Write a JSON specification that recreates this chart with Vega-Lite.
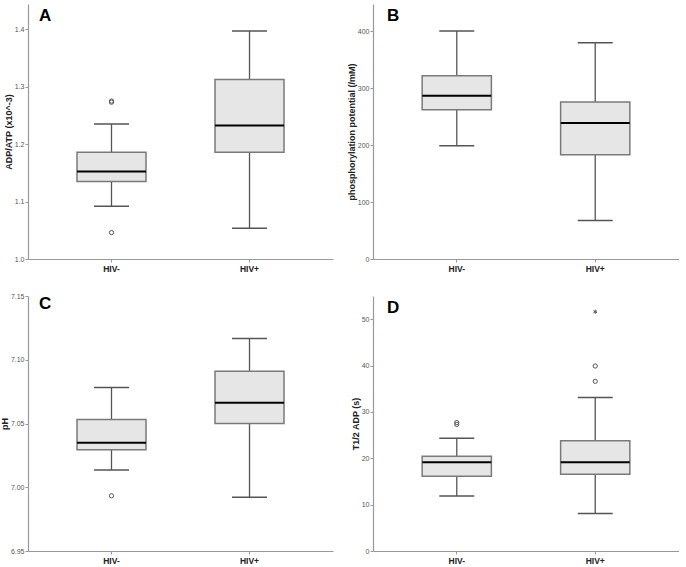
{
  "$schema": "https://vega.github.io/schema/vega-lite/v6.json",
  "padding": {"left": 0, "top": 4, "right": 0, "bottom": 0},
  "background": "white",
  "datasets": {
    "stats": [
      {"panel": "A", "group": "HIV-", "lower": 1.092, "q1": 1.135, "median": 1.1525, "q3": 1.186, "upper": 1.235},
      {"panel": "A", "group": "HIV+", "lower": 1.0535, "q1": 1.186, "median": 1.2326, "q3": 1.3126, "upper": 1.397},
      {"panel": "B", "group": "HIV-", "lower": 198.8, "q1": 262, "median": 286.7, "q3": 322, "upper": 400.5},
      {"panel": "B", "group": "HIV+", "lower": 67.8, "q1": 183, "median": 239, "q3": 276, "upper": 380},
      {"panel": "C", "group": "HIV-", "lower": 7.0135, "q1": 7.0295, "median": 7.035, "q3": 7.0531, "upper": 7.0783},
      {"panel": "C", "group": "HIV+", "lower": 6.9922, "q1": 7.05, "median": 7.0662, "q3": 7.091, "upper": 7.1166},
      {"panel": "D", "group": "HIV-", "lower": 11.86, "q1": 16.1, "median": 19.16, "q3": 20.46, "upper": 24.3},
      {"panel": "D", "group": "HIV+", "lower": 8.1, "q1": 16.56, "median": 19.16, "q3": 23.8, "upper": 33.1}
    ],
    "outliers": [
      {"panel": "A", "group": "HIV-", "value": 1.273, "kind": "outlier"},
      {"panel": "A", "group": "HIV-", "value": 1.275, "kind": "outlier"},
      {"panel": "A", "group": "HIV-", "value": 1.046, "kind": "outlier"},
      {"panel": "C", "group": "HIV-", "value": 6.9933, "kind": "outlier"},
      {"panel": "D", "group": "HIV-", "value": 27.3, "kind": "outlier"},
      {"panel": "D", "group": "HIV-", "value": 27.7, "kind": "outlier"},
      {"panel": "D", "group": "HIV+", "value": 36.6, "kind": "outlier"},
      {"panel": "D", "group": "HIV+", "value": 39.9, "kind": "outlier"},
      {"panel": "D", "group": "HIV+", "value": 51.6, "kind": "extreme"}
    ]
  },
  "columns": 2,
  "bounds": "flush",
  "spacing": {"row": 37, "column": 40},
  "concat": [
    {
      "width": 305, "height": 255,
      "title": {"text": "A", "dx": 11},
      "data": {"name": "stats"},
      "transform": [{"filter": "datum.panel === 'A'"}],
      "encoding": {
        "x": {"field": "group", "type": "nominal", "sort": ["HIV-", "HIV+"], "title": null,
              "scale": {"type": "band", "domain": ["HIV-", "HIV+"], "paddingInner": 0.5, "paddingOuter": 0.355}}
      },
      "layer": [
        {"mark": {"type": "rule", "color": "#555", "strokeWidth": 1.3},
         "encoding": {"y": {"field": "lower", "type": "quantitative", "title": "ADP/ATP (x10^-3)",
            "scale": {"domain": [1.0, 1.444], "nice": false, "zero": false},
            "axis": {"values": [1.0, 1.1, 1.2, 1.3, 1.4], "format": ".1f"}},
            "y2": {"field": "upper"}}},
        {"mark": {"type": "bar", "fill": "#e6e6e6", "stroke": "#7a7a7a", "strokeWidth": 1.5},
         "encoding": {"y": {"field": "q1", "type": "quantitative"}, "y2": {"field": "q3"}}},
        {"mark": {"type": "tick", "color": "#000", "opacity": 1, "size": 69, "thickness": 2},
         "encoding": {"y": {"field": "median", "type": "quantitative"}}},
        {"mark": {"type": "tick", "color": "#555", "opacity": 1, "size": 35, "thickness": 1.5},
         "encoding": {"y": {"field": "upper", "type": "quantitative"}}},
        {"mark": {"type": "tick", "color": "#555", "opacity": 1, "size": 35, "thickness": 1.5},
         "encoding": {"y": {"field": "lower", "type": "quantitative"}}},
        {"data": {"name": "outliers"},
         "transform": [{"filter": "datum.panel === 'A'"}],
         "mark": {"type": "point", "filled": false, "color": "#555", "opacity": 1, "size": 18, "strokeWidth": 1},
         "encoding": {"y": {"field": "value", "type": "quantitative"},
           "shape": {"field": "kind", "type": "nominal", "legend": null,
             "scale": {"domain": ["outlier", "extreme"], "range": ["circle", "M0,-1L0,1M-0.87,-0.5L0.87,0.5M-0.87,0.5L0.87,-0.5"]}}}}
      ]
    },
    {
      "width": 306, "height": 255,
      "title": {"text": "B", "dx": 14},
      "data": {"name": "stats"},
      "transform": [{"filter": "datum.panel === 'B'"}],
      "encoding": {
        "x": {"field": "group", "type": "nominal", "sort": ["HIV-", "HIV+"], "title": null,
              "scale": {"type": "band", "domain": ["HIV-", "HIV+"], "paddingInner": 0.5, "paddingOuter": 0.355}}
      },
      "layer": [
        {"mark": {"type": "rule", "color": "#555", "strokeWidth": 1.3},
         "encoding": {"y": {"field": "lower", "type": "quantitative", "title": "phosphorylation potential (/mM)",
            "scale": {"domain": [0, 448], "nice": false},
            "axis": {"values": [0, 100, 200, 300, 400]}},
            "y2": {"field": "upper"}}},
        {"mark": {"type": "bar", "fill": "#e6e6e6", "stroke": "#7a7a7a", "strokeWidth": 1.5},
         "encoding": {"y": {"field": "q1", "type": "quantitative"}, "y2": {"field": "q3"}}},
        {"mark": {"type": "tick", "color": "#000", "opacity": 1, "size": 69, "thickness": 2},
         "encoding": {"y": {"field": "median", "type": "quantitative"}}},
        {"mark": {"type": "tick", "color": "#555", "opacity": 1, "size": 35, "thickness": 1.5},
         "encoding": {"y": {"field": "upper", "type": "quantitative"}}},
        {"mark": {"type": "tick", "color": "#555", "opacity": 1, "size": 35, "thickness": 1.5},
         "encoding": {"y": {"field": "lower", "type": "quantitative"}}}
      ]
    },
    {
      "width": 305, "height": 255,
      "title": {"text": "C", "dx": 11},
      "data": {"name": "stats"},
      "transform": [{"filter": "datum.panel === 'C'"}],
      "encoding": {
        "x": {"field": "group", "type": "nominal", "sort": ["HIV-", "HIV+"], "title": null,
              "scale": {"type": "band", "domain": ["HIV-", "HIV+"], "paddingInner": 0.5, "paddingOuter": 0.355}}
      },
      "layer": [
        {"mark": {"type": "rule", "color": "#555", "strokeWidth": 1.3},
         "encoding": {"y": {"field": "lower", "type": "quantitative", "title": "pH",
            "scale": {"domain": [6.95, 7.15], "nice": false, "zero": false},
            "axis": {"values": [6.95, 7.0, 7.05, 7.1, 7.15], "format": ".2f"}},
            "y2": {"field": "upper"}}},
        {"mark": {"type": "bar", "fill": "#e6e6e6", "stroke": "#7a7a7a", "strokeWidth": 1.5},
         "encoding": {"y": {"field": "q1", "type": "quantitative"}, "y2": {"field": "q3"}}},
        {"mark": {"type": "tick", "color": "#000", "opacity": 1, "size": 69, "thickness": 2},
         "encoding": {"y": {"field": "median", "type": "quantitative"}}},
        {"mark": {"type": "tick", "color": "#555", "opacity": 1, "size": 35, "thickness": 1.5},
         "encoding": {"y": {"field": "upper", "type": "quantitative"}}},
        {"mark": {"type": "tick", "color": "#555", "opacity": 1, "size": 35, "thickness": 1.5},
         "encoding": {"y": {"field": "lower", "type": "quantitative"}}},
        {"data": {"name": "outliers"},
         "transform": [{"filter": "datum.panel === 'C'"}],
         "mark": {"type": "point", "filled": false, "color": "#555", "opacity": 1, "size": 18, "strokeWidth": 1},
         "encoding": {"y": {"field": "value", "type": "quantitative"},
           "shape": {"field": "kind", "type": "nominal", "legend": null,
             "scale": {"domain": ["outlier", "extreme"], "range": ["circle", "M0,-1L0,1M-0.87,-0.5L0.87,0.5M-0.87,0.5L0.87,-0.5"]}}}}
      ]
    },
    {
      "width": 306, "height": 255,
      "title": {"text": "D", "dx": 14},
      "data": {"name": "stats"},
      "transform": [{"filter": "datum.panel === 'D'"}],
      "encoding": {
        "x": {"field": "group", "type": "nominal", "sort": ["HIV-", "HIV+"], "title": null,
              "scale": {"type": "band", "domain": ["HIV-", "HIV+"], "paddingInner": 0.5, "paddingOuter": 0.355}}
      },
      "layer": [
        {"mark": {"type": "rule", "color": "#555", "strokeWidth": 1.3},
         "encoding": {"y": {"field": "lower", "type": "quantitative", "title": "T1/2 ADP (s)",
            "scale": {"domain": [0, 55], "nice": false},
            "axis": {"values": [0, 10, 20, 30, 40, 50]}},
            "y2": {"field": "upper"}}},
        {"mark": {"type": "bar", "fill": "#e6e6e6", "stroke": "#7a7a7a", "strokeWidth": 1.5},
         "encoding": {"y": {"field": "q1", "type": "quantitative"}, "y2": {"field": "q3"}}},
        {"mark": {"type": "tick", "color": "#000", "opacity": 1, "size": 69, "thickness": 2},
         "encoding": {"y": {"field": "median", "type": "quantitative"}}},
        {"mark": {"type": "tick", "color": "#555", "opacity": 1, "size": 35, "thickness": 1.5},
         "encoding": {"y": {"field": "upper", "type": "quantitative"}}},
        {"mark": {"type": "tick", "color": "#555", "opacity": 1, "size": 35, "thickness": 1.5},
         "encoding": {"y": {"field": "lower", "type": "quantitative"}}},
        {"data": {"name": "outliers"},
         "transform": [{"filter": "datum.panel === 'D'"}],
         "mark": {"type": "point", "filled": false, "color": "#555", "opacity": 1, "size": 18, "strokeWidth": 1},
         "encoding": {"y": {"field": "value", "type": "quantitative"},
           "shape": {"field": "kind", "type": "nominal", "legend": null,
             "scale": {"domain": ["outlier", "extreme"], "range": ["circle", "M0,-1L0,1M-0.87,-0.5L0.87,0.5M-0.87,0.5L0.87,-0.5"]}}}}
      ]
    }
  ],
  "config": {
    "view": {"stroke": null},
    "font": "Liberation Sans",
    "title": {"font": "Liberation Sans", "fontSize": 17, "fontWeight": "bold", "color": "#000",
              "anchor": "start", "frame": "group", "orient": "top", "offset": -21, "baseline": "top", "dy": 0},
    "axis": {"grid": false, "domainColor": "#999", "tickColor": "#999", "tickSize": 3, "domainWidth": 1.2,
             "labelFont": "Liberation Sans", "titleFont": "Liberation Sans"},
    "axisY": {"labelFontSize": 7, "labelColor": "#555", "labelPadding": 1,
              "titleFontSize": 9, "titleFontWeight": "bold", "titleColor": "#222", "titlePadding": 1},
    "axisX": {"labelFontSize": 8.5, "labelFontWeight": "bold", "labelColor": "#222", "labelAngle": 0, "labelPadding": 2}
  }
}
